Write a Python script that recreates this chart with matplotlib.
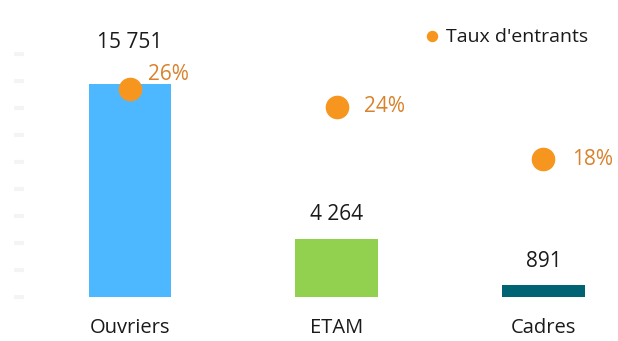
import matplotlib.pyplot as plt

categories = ['Ouvriers', 'ETAM', 'Cadres']
effectifs = [15751, 4264, 891]
effectif_labels = ['15 751', '4 264', '891']
taux = [26, 24, 18]
bar_colors = ['#4db8ff', '#92d050', '#006373']

plt.rcParams['font.family'] = ['Open Sans', 'DejaVu Sans']

fig = plt.figure(figsize=(6.18, 3.41), dpi=100)
ax = fig.add_axes([24 / 618, 1 - 297 / 341, (610 - 24) / 618, 243 / 341])
x = list(range(len(categories)))
ax.bar(x, effectifs, width=0.4, color=bar_colors)
ax.set_ylim(0, 18000)
ax.set_xlim(-(130 - 24) / 206.75, (610 - 130) / 206.75)
ax.set_yticks(range(0, 18001, 2000))
ax.set_yticklabels([])
ax.tick_params(axis='y', direction='out', length=7, width=3, color='#f4f4f4')
ax.set_xticks(x)
ax.set_xticklabels(categories, fontsize=14.5, color='#1a1a1a')
ax.tick_params(axis='x', length=0, pad=15)
for s in ax.spines.values():
    s.set_visible(False)

# valeurs au-dessus des barres
offsets = [42, 25, 23]
for xi, v, lab, off in zip(x, effectifs, effectif_labels, offsets):
    ax.annotate(lab, (xi, v), xytext=(0, off), textcoords='offset pixels',
                ha='center', va='center', fontsize=15, color='#1a1a1a')

ax2 = ax.twinx()
ax2.set_ylim(2.3, 30.0)
ax2.plot(x, taux, 'o', color='#f7961e', markersize=16, linestyle='none',
         label="Taux d'entrants")
ax2.set_yticks([])
for s in ax2.spines.values():
    s.set_visible(False)

pct_offsets = [(38, 15), (48, 0), (49, 0)]
for xi, t, (dx, dy) in zip(x, taux, pct_offsets):
    ax2.annotate(f'{t}%', (xi, t), xytext=(dx, dy), textcoords='offset pixels',
                 ha='center', va='center', fontsize=15, color='#d9822b')

leg = ax2.legend(loc='upper right', bbox_to_anchor=(606 / 618, 1 - 11 / 341),
                 bbox_transform=fig.transFigure, frameon=False, fontsize=14,
                 markerscale=0.45, handletextpad=0.25, handlelength=1.0)
for t in leg.get_texts():
    t.set_color('#1a1a1a')

fig.savefig('out.png', dpi=100)
